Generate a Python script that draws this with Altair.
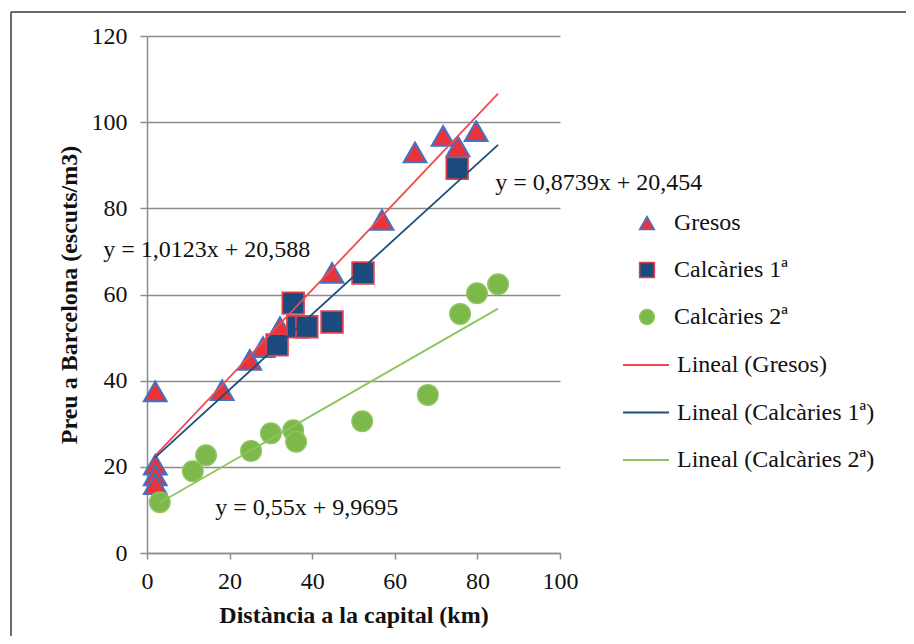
import altair as alt
import pandas as pd

# ---- data ----
series_names = ["Gresos", "Calcàries 1ª", "Calcàries 2ª"]
trend_names = ["Lineal (Gresos)", "Lineal (Calcàries 1ª)", "Lineal (Calcàries 2ª)"]

gresos_x = [2, 2, 2, 2, 18.2, 24.9, 28.1, 32.2, 44.8, 56.9, 64.9, 71.7, 75.3, 79.7]
gresos_y = [37.5, 20.5, 18, 16, 37.8, 44.8, 47.8, 52.4, 65, 77.3, 93, 96.8, 94.4, 97.9]

calc1_x = [31.5, 35.4, 36.5, 38.7, 44.8, 52.3, 75.1]
calc1_y = [48.3, 58, 52.5, 52.5, 53.6, 65, 89.3]

calc2_x = [3.1, 11.1, 14.3, 25.2, 30, 35.4, 36.1, 52.1, 68, 75.8, 79.9, 85]
calc2_y = [11.8, 19, 22.7, 23.7, 27.8, 28.5, 25.8, 30.6, 36.7, 55.5, 60.3, 62.4]

# trendline equations as printed on the chart, and their x extents
trend_slope = [1.0123, 0.8739, 0.55]
trend_intercept = [20.588, 20.454, 9.9695]
trend_x_from = [2, 2, 3]
trend_x_to = [85, 85, 85]

eq_texts = ["y = 1,0123x + 20,588", "y = 0,8739x + 20,454", "y = 0,55x + 9,9695"]
eq_x = [-10.6, 84.3, 16.5]
eq_y = [70.3, 85.8, 10.4]

x_ticks = [0, 20, 40, 60, 80, 100]
y_ticks = [0, 20, 40, 60, 80, 100, 120]

# ---- styles ----
fill_colors = ["#e8333b", "#1b4a7e", "#7cb84a"]
stroke_colors = ["#3f74c6", "#e0404a", "#8cc460"]
marker_shapes = ["triangle-up", "square", "circle"]
marker_sizes = [520, 420, 400]
marker_strokes = [2, 1.5, 1]
line_colors = ["#ee4a4f", "#1f4e79", "#8dc45f"]
FONT = "Liberation Serif"

rows = []
for i, (name, xs, ys) in enumerate([(series_names[0], gresos_x, gresos_y),
                                    (series_names[1], calc1_x, calc1_y),
                                    (series_names[2], calc2_x, calc2_y)]):
    for xv, yv in zip(xs, ys):
        rows.append({"series": name, "grp": i, "x": xv, "y": yv})
pts = pd.DataFrame(rows)

lrows = []
for name, m, b, x0, x1 in zip(trend_names, trend_slope, trend_intercept, trend_x_from, trend_x_to):
    lrows.append({"trend": name, "x": x0, "y": m * x0 + b})
    lrows.append({"trend": name, "x": x1, "y": m * x1 + b})
lines = pd.DataFrame(lrows)

eqs = pd.DataFrame({"label": eq_texts, "x": eq_x, "y": eq_y})

xscale = alt.Scale(domain=[0, 100], nice=False)
yscale = alt.Scale(domain=[0, 120], nice=False)

leg_pts = alt.Legend(title=None, orient="none", legendX=488, legendY=175,
                     labelFont=FONT, labelFontSize=24, labelColor="#111",
                     labelLimit=400, rowPadding=23, symbolSize=220,
                     labelOffset=15, padding=0, symbolStrokeWidth=1.5)
leg_lines = alt.Legend(title=None, orient="none", legendX=475, legendY=305,
                       labelFont=FONT, labelFontSize=24, labelColor="#111",
                       labelLimit=400, rowPadding=11.5, symbolType="stroke",
                       symbolSize=2116, symbolStrokeWidth=2, labelOffset=7,
                       padding=0)

points = alt.Chart(pts).mark_point(filled=True, opacity=1).encode(
    x=alt.X("x:Q", scale=xscale,
            axis=alt.Axis(values=x_ticks, title="Distància a la capital (km)")),
    y=alt.Y("y:Q", scale=yscale,
            axis=alt.Axis(values=y_ticks, title="Preu a Barcelona (escuts/m3)")),
    fill=alt.Fill("series:N", scale=alt.Scale(domain=series_names, range=fill_colors), legend=leg_pts),
    stroke=alt.Stroke("series:N", scale=alt.Scale(domain=series_names, range=stroke_colors), legend=leg_pts),
    shape=alt.Shape("series:N", scale=alt.Scale(domain=series_names, range=marker_shapes), legend=leg_pts),
    size=alt.Size("grp:O", scale=alt.Scale(domain=[0, 1, 2], range=marker_sizes), legend=None),
    strokeWidth=alt.StrokeWidth("grp:O", scale=alt.Scale(domain=[0, 1, 2], range=marker_strokes), legend=None),
)

trend = alt.Chart(lines).mark_line(strokeWidth=1.8).encode(
    x=alt.X("x:Q", scale=xscale),
    y=alt.Y("y:Q", scale=yscale),
    color=alt.Color("trend:N", scale=alt.Scale(domain=trend_names, range=line_colors), legend=leg_lines),
)

texts = alt.Chart(eqs).mark_text(align="left", baseline="middle", font=FONT,
                                 fontSize=24, color="#111").encode(
    x=alt.X("x:Q", scale=xscale),
    y=alt.Y("y:Q", scale=yscale),
    text="label:N",
)

frame_top = alt.Chart(alt.Data(values=[{"a": 1}])).mark_rule(
    color="#3a3a3a", strokeWidth=1.5).encode(
    x=alt.value(-136), x2=alt.value(900), y=alt.value(-24))
frame_left = alt.Chart(alt.Data(values=[{"a": 1}])).mark_rule(
    color="#3a3a3a", strokeWidth=1.5).encode(
    x=alt.value(-136), y=alt.value(-24), y2=alt.value(700))

chart = alt.layer(points, trend, texts, frame_top, frame_left).properties(
    width=413, height=517,
    autosize=alt.AutoSizeParams(type="none"),
    padding={"left": 139, "top": 28, "right": 346, "bottom": 83},
).configure_view(stroke=None).configure_axis(
    labelFont=FONT, labelFontSize=24, labelColor="#111",
    titleFont=FONT, titleFontSize=24, titleFontWeight="bold", titleColor="#111",
    domainColor="#8c8c8c", domainWidth=1.5, tickColor="#8c8c8c", tickWidth=1.5,
    gridColor="#8c8c8c", gridWidth=1.5, labelFlush=False,
).configure_axisX(
    grid=False, tickSize=6, labelPadding=10, titlePadding=10,
).configure_axisY(
    grid=True, tickSize=7, labelPadding=13, titlePadding=10,
)

chart.save("out.html", embed_options={"renderer": "svg", "actions": False})
